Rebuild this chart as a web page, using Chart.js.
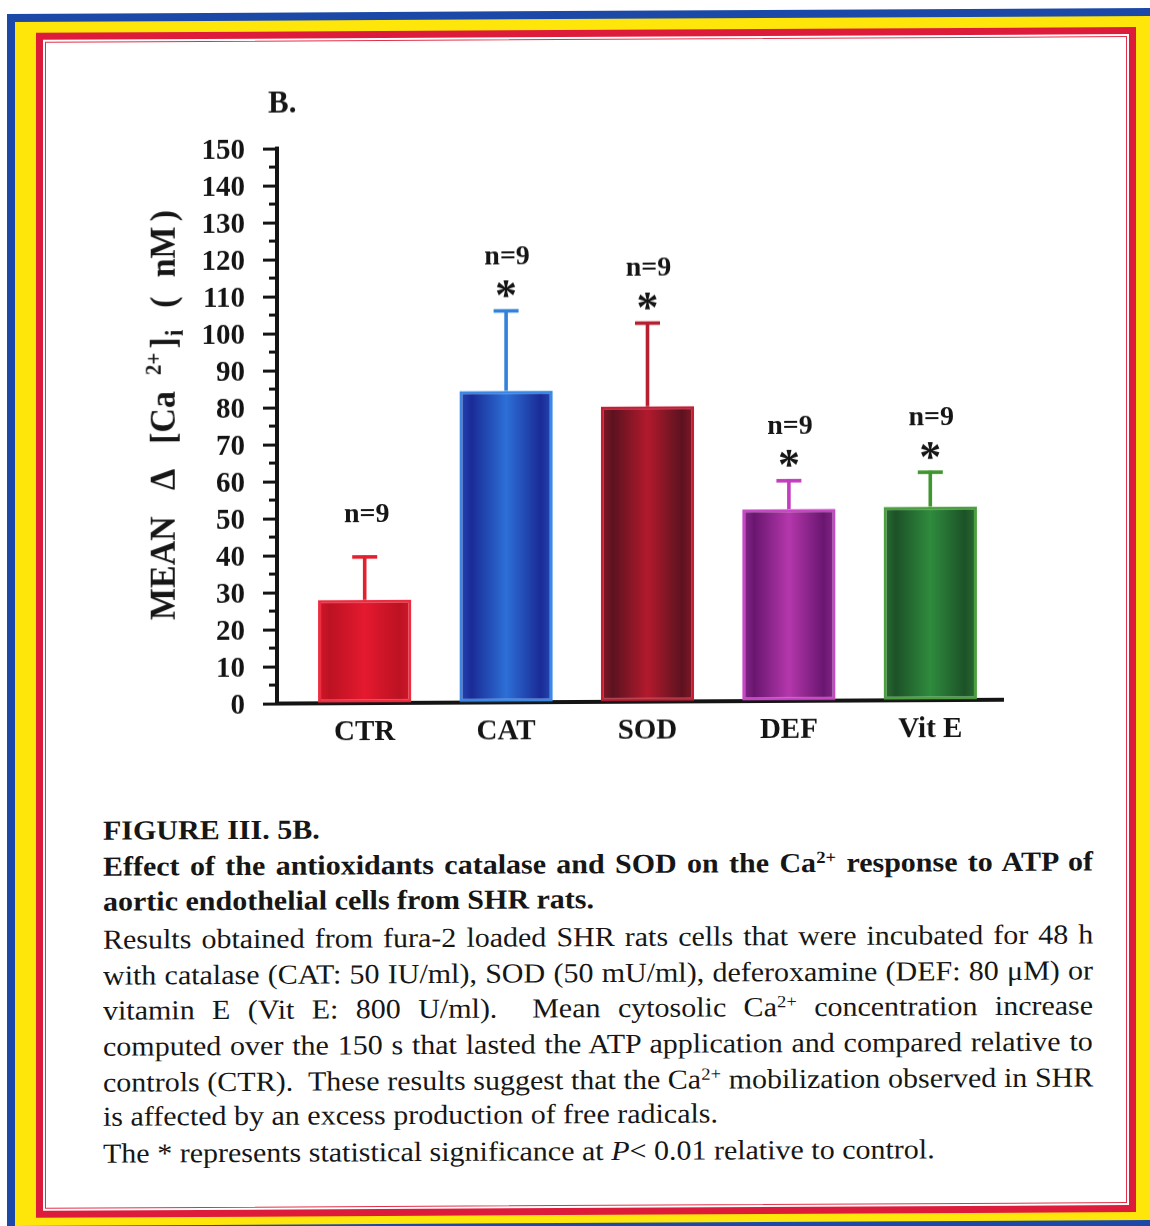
<!DOCTYPE html>
<html>
<head>
<meta charset="utf-8">
<title>Figure III. 5B</title>
<script src="https://cdn.jsdelivr.net/npm/chart.js@4.4.1/dist/chart.umd.min.js"></script>
<style>
  html, body { margin: 0; padding: 0; background: #fff; }
  body { width: 1150px; height: 1226px; overflow: hidden; position: relative;
         font-family: "Liberation Serif", "Times New Roman", serif; color: #161616; }
  #page { position: absolute; left: 0; top: 0; width: 1150px; height: 1226px;
          transform: skewY(-0.3deg); transform-origin: 575px 613px; }
  .box { position: absolute; box-sizing: border-box; }
  #blue   { left: 6.5px;  top: 10.5px; width: 1157.5px; height: 1220.5px; background: #1c49a7; }
  #yellow { left: 14.5px; top: 18.5px; width: 1141.5px; height: 1204.5px; background: #ffe60a; }
  #red    { left: 35.5px; top: 29.5px; width: 1100.5px; height: 1185px;   background: #dd1b3b; }
  #gap    { left: 43px;   top: 36.5px; width: 1086px;   height: 1171px;   background: #fff; }
  #inner  { left: 45px;   top: 38.5px; width: 1082px;   height: 1167px;   background: #fff;
            border: 1.5px solid #e23048; }
  #chart { position: absolute; left: 0; top: 0; }
  #panel { position: absolute; left: 268px; top: 82px; font-weight: bold; font-size: 31px; line-height: 38px; }
  #ytitle { position: absolute; left: 163px; top: 413px; white-space: nowrap;
            font-weight: bold; font-size: 34px; line-height: 1;
            transform: translate(-50%, -50%) rotate(-90deg) scaleY(1.06); }
  #ytitle span { display: inline-block; }
  #ytitle .sup { font-size: 21px; position: relative; top: -13px; }
  #ytitle .sub { font-size: 23px; position: relative; top: 8px; }
  .line { position: absolute; left: 103px; width: 990px; height: 36px; line-height: 36px;
          font-size: 30px; white-space: nowrap; transform: scaleY(0.92); }
  .line span { white-space: nowrap; }
  .b { font-weight: bold; }
  .line sup { font-size: 0.62em; vertical-align: 0.52em; line-height: 0; }
</style>
</head>
<body>
<div id="page">
  <div class="box" id="blue"></div>
  <div class="box" id="yellow"></div>
  <div class="box" id="red"></div>
  <div class="box" id="gap"></div>
  <div class="box" id="inner"></div>

  <canvas id="chart" width="1150" height="790"></canvas>

  <div id="panel">B.</div>
  <div id="ytitle"><span>MEAN</span><span style="margin-left:26px">Δ</span><span style="margin-left:25px">[Ca</span><span class="sup" style="margin-left:16px">2+</span><span style="margin-left:4px">]</span><span class="sub" style="margin-left:1px">i</span><span style="margin-left:22px">(</span><span style="margin-left:19px">nM</span><span style="margin-left:5px">)</span></div>

  <div class="line b" style="top:810px">FIGURE III. 5B.</div>
  <div class="line b j" style="top:846px"><span>Effect of the antioxidants catalase and SOD on the Ca<sup>2+</sup> response to ATP of</span></div>
  <div class="line b" style="top:881px">aortic endothelial cells from SHR rats.</div>
  <div class="line j" style="top:919px"><span>Results obtained from fura-2 loaded SHR rats cells that were incubated for 48 h</span></div>
  <div class="line j" style="top:955px"><span>with catalase (CAT: 50 IU/ml), SOD (50 mU/ml), deferoxamine (DEF: 80 μM) or</span></div>
  <div class="line j" style="top:990px"><span>vitamin E (Vit E: 800 U/ml).&nbsp; Mean cytosolic Ca<sup>2+</sup> concentration increase</span></div>
  <div class="line j" style="top:1026px"><span>computed over the 150 s that lasted the ATP application and compared relative to</span></div>
  <div class="line j" style="top:1062px"><span>controls (CTR).&nbsp; These results suggest that the Ca<sup>2+</sup> mobilization observed in SHR</span></div>
  <div class="line" style="top:1096px">is affected by an excess production of free radicals.</div>
  <div class="line" style="top:1133px">The * represents statistical significance at <i>P</i>&lt; 0.01 relative to control.</div>
</div>

<script>
// Treatment groups and the mean rise in cytosolic Ca2+ (nM) with its error
const categories  = ['CTR', 'CAT', 'SOD', 'DEF', 'Vit E'];
const meanRise    = [27.9, 84.2, 79.8, 51.8, 52.3];
const errorRise   = [11.6, 21.6, 22.5, 7.7, 9.3];
const cellCounts  = [9, 9, 9, 9, 9];
const significant = [false, true, true, true, true];
const yRange      = { min: 0, max: 150, major: 10, minor: 5 };

// Per-bar shading: edge, dark band, centre highlight, outline, whisker
const shades = [
  { edge: '#d0172a', dark: '#bc1222', mid: '#e5192f', line: '#ec2d40', whisker: '#e2202f' },
  { edge: '#2448b4', dark: '#1a2b96', mid: '#2c6fd6', line: '#3a88e4', whisker: '#3282dc' },
  { edge: '#861726', dark: '#5c1220', mid: '#b21a2c', line: '#c41d34', whisker: '#b71e2f' },
  { edge: '#86268a', dark: '#6a1670', mid: '#b437ac', line: '#c747c4', whisker: '#c23dbd' },
  { edge: '#2a6e32', dark: '#1c5228', mid: '#2f8b3d', line: '#4c9f3f', whisker: '#3f952f' }
];

const BAR_PCT = 0.66;
const SERIF = '"Liberation Serif", "Times New Roman", serif';

// Justify the caption lines to the full column width
document.querySelectorAll('.line.j').forEach(el => {
  const span = el.querySelector('span');
  const natural = span.offsetWidth;
  const gaps = (span.textContent.match(/[ \u00a0]/g) || []).length;
  if (gaps) span.style.wordSpacing = ((990 - natural) / gaps) + 'px';
});

function barFill(c) {
  const chart = c.chart;
  const xs = chart.scales.x;
  const s = shades[c.dataIndex] || shades[0];
  if (!chart.chartArea || !xs || c.dataIndex === undefined) return s.mid;
  const step = Math.abs(xs.getPixelForValue(1) - xs.getPixelForValue(0));
  const cx = xs.getPixelForValue(c.dataIndex);
  const half = step * BAR_PCT / 2;
  const g = chart.ctx.createLinearGradient(cx - half, 0, cx + half, 0);
  g.addColorStop(0, s.edge);
  g.addColorStop(0.13, s.dark);
  g.addColorStop(0.5, s.mid);
  g.addColorStop(0.87, s.dark);
  g.addColorStop(1, s.edge);
  return g;
}

function textAt(ctx, text, x, cy) {
  const m = ctx.measureText(text);
  ctx.fillText(text, x, cy + (m.actualBoundingBoxAscent - m.actualBoundingBoxDescent) / 2);
}

// Category band sits slightly inside the axis line on the left
const categoryInset = {
  id: 'categoryInset',
  afterLayout(chart) {
    const xs = chart.scales.x, a = chart.chartArea;
    xs._startPixel = a.left + 17;
    xs._length = a.right - a.left - 19;
  }
};

// Error whiskers, n labels and significance stars
const whiskers = {
  id: 'whiskers',
  afterDatasetsDraw(chart) {
    const ctx = chart.ctx, y = chart.scales.y;
    const meta = chart.getDatasetMeta(0);
    meta.data.forEach((bar, i) => {
      const x = bar.x;
      const yb = y.getPixelForValue(meanRise[i]);
      const yt = y.getPixelForValue(meanRise[i] + errorRise[i]);
      ctx.save();
      ctx.strokeStyle = shades[i].whisker;
      ctx.lineWidth = 3.6;
      ctx.beginPath(); ctx.moveTo(x, yb); ctx.lineTo(x, yt - 1.5); ctx.stroke();
      ctx.beginPath(); ctx.moveTo(x - 12.5, yt); ctx.lineTo(x + 12.5, yt); ctx.stroke();
      ctx.fillStyle = '#151515';
      ctx.textAlign = 'center';
      ctx.textBaseline = 'alphabetic';
      if (significant[i]) {
        ctx.font = 'bold 44px ' + SERIF;
        textAt(ctx, '*', x, yt - 22);
        ctx.font = 'bold 28px ' + SERIF;
        textAt(ctx, 'n=' + cellCounts[i], x + 1, yt - 56);
      } else {
        ctx.font = 'bold 28px ' + SERIF;
        textAt(ctx, 'n=' + cellCounts[i], x + 2, yt - 44);
      }
      ctx.restore();
    });
  }
};

// Short minor tick marks between the labelled ones
const minorTicks = {
  id: 'minorTicks',
  afterDraw(chart) {
    const ctx = chart.ctx, y = chart.scales.y, left = chart.chartArea.left;
    ctx.save();
    ctx.strokeStyle = '#141414';
    ctx.lineWidth = 3;
    for (let v = yRange.min + yRange.minor; v < yRange.max; v += yRange.major) {
      const py = y.getPixelForValue(v);
      ctx.beginPath(); ctx.moveTo(left - 8, py); ctx.lineTo(left, py); ctx.stroke();
    }
    ctx.restore();
  }
};

new Chart(document.getElementById('chart'), {
  type: 'bar',
  data: {
    labels: categories,
    datasets: [{
      data: meanRise,
      backgroundColor: barFill,
      borderColor: shades.map(s => s.line),
      borderWidth: 3,
      borderSkipped: false,
      barPercentage: BAR_PCT,
      categoryPercentage: 1
    }]
  },
  options: {
    responsive: false,
    devicePixelRatio: 1,
    animation: false,
    events: [],
    layout: { padding: { top: 147, right: 147, bottom: 18, left: 0 } },
    plugins: { legend: { display: false }, tooltip: { enabled: false }, title: { display: false } },
    scales: {
      x: {
        type: 'category',
        offset: true,
        afterFit(s) { s.height = 70; },
        grid: { display: false, drawTicks: false },
        border: { display: true, color: '#141414', width: 4 },
        ticks: {
          color: '#141414',
          padding: 12,
          font: { family: SERIF, weight: 'bold', size: 29 }
        }
      },
      y: {
        min: yRange.min,
        max: yRange.max,
        afterFit(s) { s.width = 277; },
        grid: {
          drawOnChartArea: false,
          drawTicks: true,
          tickLength: 14,
          tickWidth: 3,
          tickColor: c => (c.tick && c.tick.value % yRange.major === 0) ? '#141414' : 'rgba(0,0,0,0)'
        },
        border: { display: true, color: '#141414', width: 4 },
        ticks: {
          stepSize: yRange.major,
          autoSkip: false,
          labelOffset: 3,
          color: '#141414',
          padding: 18,
          font: { family: SERIF, weight: 'bold', size: 29 }
        }
      }
    }
  },
  plugins: [categoryInset, whiskers, minorTicks]
});
</script>
</body>
</html>
